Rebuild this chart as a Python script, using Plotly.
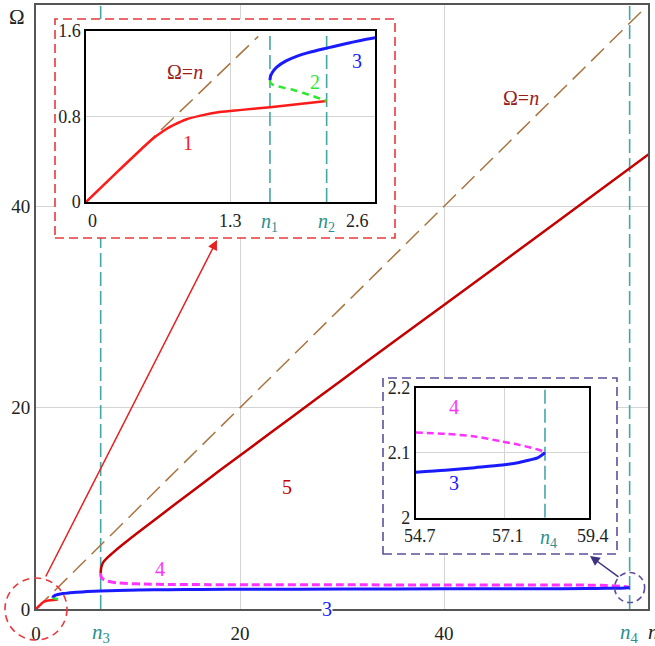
import plotly.graph_objects as go

# ---------------- data ----------------
N1, N2, N3, N4 = 1.655, 2.165, 6.34, 58.2

diag_x = [0, 59.5]
diag_y = [0, 59.5]
diag_inset_x = [0, 1.55]
diag_inset_y = [0, 1.55]

# branch 1 (red, solid)
c1_x = [0, 0.3, 0.55, 0.62, 0.68, 0.74, 0.8, 0.9, 1.03, 1.2, 1.4, 1.655, 1.9, 2.165]
c1_y = [0, 0.3, 0.545, 0.608, 0.653, 0.693, 0.726, 0.772, 0.808, 0.842, 0.862, 0.886, 0.914, 0.945]

# branch 2 (green, dashed)
c2_x = [1.655, 1.66, 1.68, 1.716, 1.79, 1.866, 1.95, 2.045, 2.13, 2.165]
c2_y = [1.14, 1.115, 1.098, 1.085, 1.066, 1.048, 1.022, 0.99, 0.958, 0.945]

# branch 3 (blue, solid)
c3_x = [1.655, 1.66, 1.675, 1.716, 1.8, 1.9, 2.0, 2.165, 2.375, 2.6, 3.2, 4, 5, 6.3, 8, 10, 13,
        16, 21, 30, 40, 50, 54, 56, 57.3, 58.0, 58.2]
c3_y = [1.14, 1.175, 1.21, 1.262, 1.32, 1.365, 1.398, 1.44, 1.49, 1.537, 1.6, 1.66, 1.73, 1.79,
        1.85, 1.89, 1.92, 1.94, 1.96, 1.98, 2.0, 2.02, 2.03, 2.05, 2.07, 2.1, 2.13]

# branch 4 (magenta, dashed)
c4_x = [6.34, 6.36, 6.45, 6.6, 6.9, 7.3, 8, 9, 10.5, 13, 17, 21, 30, 40, 50, 54, 56, 57.3, 58.0, 58.2]
c4_y = [3.55, 3.3, 3.1, 2.95, 2.8, 2.7, 2.6, 2.53, 2.48, 2.44, 2.42, 2.41, 2.4, 2.39, 2.38, 2.37,
        2.33, 2.26, 2.18, 2.13]

# branch 5 (dark red, solid)
c5_x = [6.34, 6.37, 6.45, 6.6, 7.0, 7.5, 8.5, 10, 12, 15, 18, 21, 25, 30, 35, 40, 50, 60.5]
c5_y = [3.55, 3.95, 4.3, 4.65, 5.1, 5.55, 6.4, 7.6, 9.15, 11.45, 13.75, 16.0, 19.0, 22.75, 26.5,
        30.2, 37.65, 45.5]

# zoomed view near n4
z3_x = [54.7, 55.5, 56.3, 57.05, 57.5, 57.8, 58.0, 58.11, 58.2]
z3_y = [2.07, 2.073, 2.077, 2.081, 2.085, 2.089, 2.092, 2.096, 2.1]
z4_x = [54.7, 55.5, 56.3, 57.05, 57.5, 57.8, 58.0, 58.15, 58.2]
z4_y = [2.131, 2.129, 2.125, 2.117, 2.112, 2.108, 2.105, 2.102, 2.1]

main_ticks = [0, 20, 40]
inset1_yticks = [0, 0.8, 1.6]
inset1_yticktext = ["0", "0.8", "1.6"]
inset2_yticks = [2.0, 2.1, 2.2]
inset2_yticktext = ["2", "2.1", "2.2"]
inset2_xticks = [54.7, 57.1, 59.4]

# ---------------- styles ----------------
FONT = "Liberation Serif, Times New Roman, serif"
RED = "#ff1a1a"
GREEN = "#2ee82e"
BLUE = "#1a1aff"
MAG = "#ff33ff"
DRED = "#c40000"
BROWN = "#a87440"
TEAL = "#46a6a6"
TEAL_T = "#2a9090"
LBL_RED = "#9a1c1c"
GRID = "#d4d4d4"
FRAME_RED = "#e8383c"
FRAME_PUR = "#5c4f9c"

fig = go.Figure()


def line(x, y, color, width, dash="solid", ax="x", ay="y", smooth=False):
    ln = dict(color=color, width=width, dash=dash)
    if smooth:
        ln.update(shape="spline", smoothing=0.8)
    fig.add_trace(go.Scatter(x=x, y=y, mode="lines", xaxis=ax, yaxis=ay, line=ln,
                             showlegend=False, hoverinfo="skip"))


# ---- main subplot (x, y)
line([N3, N3], [0, 60], TEAL, 1.6, "14px,5px")
line([N4, N4], [0, 60], TEAL, 1.6, "14px,5px")
line(diag_x, diag_y, BROWN, 1.5, "18px,8px")
line(c1_x, c1_y, RED, 2.5, smooth=True)
line(c2_x, c2_y, GREEN, 2.5, "6px,4px", smooth=True)
line(c4_x, c4_y, MAG, 3, "8px,4px", smooth=True)
line(c3_x, c3_y, BLUE, 3, smooth=True)
line(c5_x, c5_y, DRED, 2.5, smooth=True)

# ---- frame subplot for inset 1 (x2, y2) : white cover
line([None], [None], "white", 1, ax="x2", ay="y2")
# ---- inset 1 (x3, y3)
line([N1, N1], [0, 1.6], TEAL, 1.6, "14px,5px", "x3", "y3")
line([N2, N2], [0, 1.6], TEAL, 1.6, "14px,5px", "x3", "y3")
line(diag_inset_x, diag_inset_y, BROWN, 1.5, "18px,8px", "x3", "y3")
line(c1_x, c1_y, RED, 2.5, ax="x3", ay="y3", smooth=True)
line(c2_x, c2_y, GREEN, 2.5, "7px,5px", "x3", "y3", smooth=True)
line(c3_x, c3_y, BLUE, 3, ax="x3", ay="y3", smooth=True)

# ---- frame subplot for inset 2 (x4, y4)
line([None], [None], "white", 1, ax="x4", ay="y4")
# ---- inset 2 (x5, y5)
line([N4, N4], [2.0, 2.2], TEAL, 1.6, "14px,5px", "x5", "y5")
line(z4_x, z4_y, MAG, 2.5, "7px,4px", "x5", "y5", smooth=True)
line(z3_x, z3_y, BLUE, 3, ax="x5", ay="y5", smooth=True)

W, H = 655, 646
ML, MR, MT, MB = 36, 7, 5, 37
PW, PH = W - ML - MR, H - MT - MB


def dx(px):
    return (px - ML) / PW


def dy(py):
    return (H - MB - py) / PH


tickfont = dict(family=FONT, size=19, color="#222")
sfont = dict(family=FONT, size=18, color="#222")

axis_common = dict(showline=True, mirror=True, zeroline=False, ticks="")

fig.update_layout(
    width=W, height=H, autosize=False,
    margin=dict(l=ML, r=MR, t=MT, b=MB, autoexpand=False),
    paper_bgcolor="white", plot_bgcolor="white",
    font=dict(family=FONT),
    xaxis=dict(domain=[0, 1], range=[0, 60], tickvals=main_ticks, showgrid=True, gridcolor=GRID,
               gridwidth=1, linecolor="#555", linewidth=2, tickfont=tickfont,
               ticks="outside", ticklen=6, tickcolor="rgba(0,0,0,0)", showline=True, mirror=True,
               zeroline=False, automargin=False),
    yaxis=dict(domain=[0, 1], range=[0, 60], tickvals=main_ticks, showgrid=True, gridcolor=GRID,
               gridwidth=1, linecolor="#555", linewidth=2, tickfont=tickfont,
               ticks="", showline=True, mirror=True, zeroline=False, automargin=False),
    xaxis2=dict(domain=[dx(55), dx(395)], range=[0, 1], visible=False, anchor="y2"),
    yaxis2=dict(domain=[dy(238), dy(19)], range=[0, 1], visible=False, anchor="x2"),
    xaxis3=dict(domain=[dx(86), dx(375)], range=[0, 2.6], anchor="y3", tickvals=[1.3],
                showticklabels=False, showgrid=True, gridcolor=GRID, linecolor="black",
                linewidth=1.5, automargin=False, **axis_common),
    yaxis3=dict(domain=[dy(202), dy(31)], range=[0, 1.6], anchor="x3", tickvals=inset1_yticks,
                ticktext=inset1_yticktext, tickfont=sfont, showgrid=True,
                gridcolor=GRID, linecolor="black", linewidth=1.5, automargin=False, **axis_common),
    xaxis4=dict(domain=[dx(383), dx(617)], range=[0, 1], visible=False, anchor="y4"),
    yaxis4=dict(domain=[dy(554), dy(378)], range=[0, 1], visible=False, anchor="x4"),
    xaxis5=dict(domain=[dx(415.7), dx(589.3)], range=[54.7, 59.4], anchor="y5",
                tickvals=[57.1], showticklabels=False, showgrid=True, gridcolor=GRID,
                linecolor="black", linewidth=1.5, automargin=False, **axis_common),
    yaxis5=dict(domain=[dy(517.7), dy(387.7)], range=[2.0, 2.2], anchor="x5",
                tickvals=inset2_yticks, ticktext=inset2_yticktext, tickfont=sfont,
                showgrid=True, gridcolor=GRID, linecolor="black", linewidth=1.5,
                automargin=False, **axis_common),
)

shapes = []
# white covers (drawn inside the frame subplots, above the main subplot)
for xr, yr in (("x2", "y2"), ("x4", "y4")):
    shapes.append(dict(type="rect", xref=xr, yref=yr, x0=0, x1=1, y0=0, y1=1,
                       fillcolor="white", line=dict(width=0), layer="below"))
# dashed frames
shapes.append(dict(type="rect", xref="x2 domain", yref="y2 domain", x0=0, x1=1, y0=0, y1=1,
                   line=dict(color=FRAME_RED, width=1.6, dash="9px,5px"), layer="above"))
shapes.append(dict(type="rect", xref="x4 domain", yref="y4 domain", x0=0, x1=1, y0=0, y1=1,
                   line=dict(color=FRAME_PUR, width=1.6, dash="9px,5px"), layer="above"))
# dashed circles
shapes.append(dict(type="circle", xref="x domain", yref="y domain", xsizemode="pixel",
                   ysizemode="pixel", xanchor=0, yanchor=0, x0=-31, x1=31, y0=-31, y1=31,
                   line=dict(color=FRAME_RED, width=1.6, dash="7px,5px"), layer="above"))
shapes.append(dict(type="circle", xref="x domain", yref="y domain", xsizemode="pixel",
                   ysizemode="pixel", xanchor=N4 / 60, yanchor=2.13 / 60, x0=-15, x1=15,
                   y0=-15, y1=15, line=dict(color=FRAME_PUR, width=1.6, dash="6px,4px"),
                   layer="above"))
fig.update_layout(shapes=shapes)

ann = []


def text(t, x, y, color, size=20, xref="x", yref="y", **kw):
    d = dict(text=t, x=x, y=y, xref=xref, yref=yref, showarrow=False,
             xanchor="center", yanchor="middle",
             font=dict(family=FONT, size=size, color=color))
    d.update(kw)
    ann.append(d)


# main labels
text("Ω=<i>n</i>", 47.5, 50.8, LBL_RED, 20)
text("5", 24.6, 12.1, DRED, 20)
text("4", 12.2, 4.0, MAG, 20)
text("3", 28.5, 0, BLUE, 20, bgcolor="white", borderpad=0)
text("Ω", dx(17), dy(17), "#222", 21, xref="paper", yref="paper")
text("<i>n</i>", dx(646), dy(632), "#222", 21, xref="paper", yref="paper", xanchor="left")
text("<i>n</i><sub>3</sub>", N3, 0, TEAL_T, 21, yref="paper", yanchor="top", yshift=-9)
text("<i>n</i><sub>4</sub>", N4, 0, TEAL_T, 21, yref="paper", yanchor="top", yshift=-9)

# inset 1 labels
text("Ω=<i>n</i>", 0.89, 1.216, LBL_RED, 20, "x3", "y3")
text("1", 0.918, 0.552, RED, 20, "x3", "y3")
text("2", 2.06, 1.126, GREEN, 20, "x3", "y3")
text("3", 2.435, 1.319, BLUE, 20, "x3", "y3")
for t, xv, xs in (("0", 0, 6), ("1.3", 1.3, 0), ("2.6", 2.6, -18)):
    text(t, xv, 0, "#222", 18, "x3", "y3 domain", yanchor="top", yshift=-7, xshift=xs)
text("<i>n</i><sub>1</sub>", N1, 0, TEAL_T, 20, "x3", "y3 domain", yanchor="top", yshift=-6)
text("<i>n</i><sub>2</sub>", N2, 0, TEAL_T, 20, "x3", "y3 domain", yanchor="top", yshift=-6)

# inset 2 labels
text("4", 55.75, 2.17, MAG, 20, "x5", "y5")
text("3", 55.75, 2.054, BLUE, 20, "x5", "y5")
for xv in inset2_xticks:
    text(str(xv), xv, 0, "#222", 18, "x5", "y5 domain", yanchor="top", yshift=-6, xshift=4)
text("<i>n</i><sub>4</sub>", N4, 0, TEAL_T, 20, "x5", "y5 domain", yanchor="top", yshift=-6,
     xshift=4)

# arrows
ann.append(dict(x=dx(217), y=dy(240), xref="paper", yref="paper", ax=-172, ay=338, text="",
                showarrow=True, arrowhead=2, arrowsize=1.3, arrowwidth=1.5,
                arrowcolor="#e82020", standoff=0))
ann.append(dict(x=dx(590), y=dy(556), xref="paper", yref="paper", ax=30, ay=22, text="",
                showarrow=True, arrowhead=2, arrowsize=1.3, arrowwidth=1.5,
                arrowcolor="#3d3480", standoff=0))

fig.update_layout(annotations=ann)
fig.write_html("out.html", config={"displayModeBar": False},
               post_script="document.body.style.margin='0px';"
                           "document.body.style.overflow='hidden';")
